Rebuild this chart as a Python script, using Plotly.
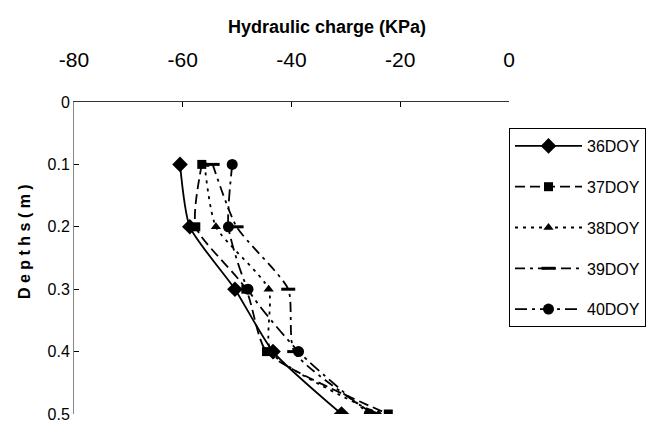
import plotly.graph_objects as go

depths = [0.1, 0.2, 0.3, 0.4, 0.5]
series_names = ["36DOY", "37DOY", "38DOY", "39DOY", "40DOY"]
doy36 = [-60.5, -58.7, -50.4, -43.4, -30.8]
doy37 = [-56.5, -57.6, -48.4, -44.6, -22.2]
doy38 = [-56.0, -53.9, -44.2, -43.8, -24.0]
doy39 = [-54.5, -50.1, -40.6, -39.5, -25.0]
doy40 = [-50.9, -51.6, -48.0, -38.7, -25.7]
x_ticks = [-80, -60, -40, -20, 0]
x_labels = ["-80", "-60", "-40", "-20", "0"]
y_ticks = [0, 0.1, 0.2, 0.3, 0.4, 0.5]
y_labels = ["0", "0.1", "0.2", "0.3", "0.4", "0.5"]

values = [doy36, doy37, doy38, doy39, doy40]
dashes = ["solid", "10px,5px", "3px,5px", "10px,5px,3px,5px", "12px,5px,3px,5px"]
symbols = ["diamond", "square", "triangle-up", "line-ew-open", "circle"]
sizes = [12, 9, 9, 10, 11]

FONT = "Liberation Sans, Arial, sans-serif"

fig = go.Figure()
for name, vals, dash, sym, sz in zip(series_names, values, dashes, symbols, sizes):
    fig.add_trace(go.Scatter(
        x=vals, y=depths, name=name, mode="lines+markers",
        line=dict(color="black", width=1.8, dash=dash, shape="spline", smoothing=0.6),
        marker=dict(symbol=sym, size=sz, color="black",
                    line=dict(color="black", width=3 if sym == "line-ew-open" else 0)),
        legendgroup=name,
    ))

fig.update_layout(
    width=655, height=425,
    margin=dict(l=74, r=146, t=102, b=11, autoexpand=False),
    paper_bgcolor="white", plot_bgcolor="white",
    font=dict(family=FONT, size=17, color="black"),
    showlegend=True,
    legend=dict(x=1.0, xanchor="left", y=(414 - 128) / 312, yanchor="top",
                bordercolor="black", borderwidth=1, bgcolor="white",
                font=dict(family=FONT, size=16), tracegroupgap=17,
                itemwidth=67),
    xaxis=dict(side="top", range=[-80, 0], tickvals=x_ticks, ticktext=x_labels,
               ticks="inside", ticklen=5, tickcolor="black",
               showline=True, linecolor="#333", linewidth=1,
               showgrid=False, zeroline=False, ticklabelstandoff=26,
               ticklabeloverflow="allow",
               tickfont=dict(family=FONT, size=21)),
    yaxis=dict(range=[0.5, 0], tickvals=y_ticks, ticktext=y_labels,
               ticks="inside", ticklen=5, tickcolor="black",
               showline=True, linecolor="#888", linewidth=1,
               showgrid=False, zeroline=False, ticklabeloverflow="allow",
               tickfont=dict(family=FONT, size=16)),
    annotations=[
        dict(text="<b>Hydraulic charge (KPa)</b>", xref="paper", yref="paper",
             x=(327 - 74) / 435, y=(414 - 27) / 312, xanchor="center", yanchor="middle",
             showarrow=False, font=dict(family=FONT, size=18)),
        dict(text="<b>D e p t h s ( m )</b>", xref="paper", yref="paper",
             x=(24 - 74) / 435, y=(414 - 242) / 312, xanchor="center", yanchor="middle",
             textangle=-90, showarrow=False,
             font=dict(family=FONT, size=16)),
    ],
)

fig.write_html("out.html")
